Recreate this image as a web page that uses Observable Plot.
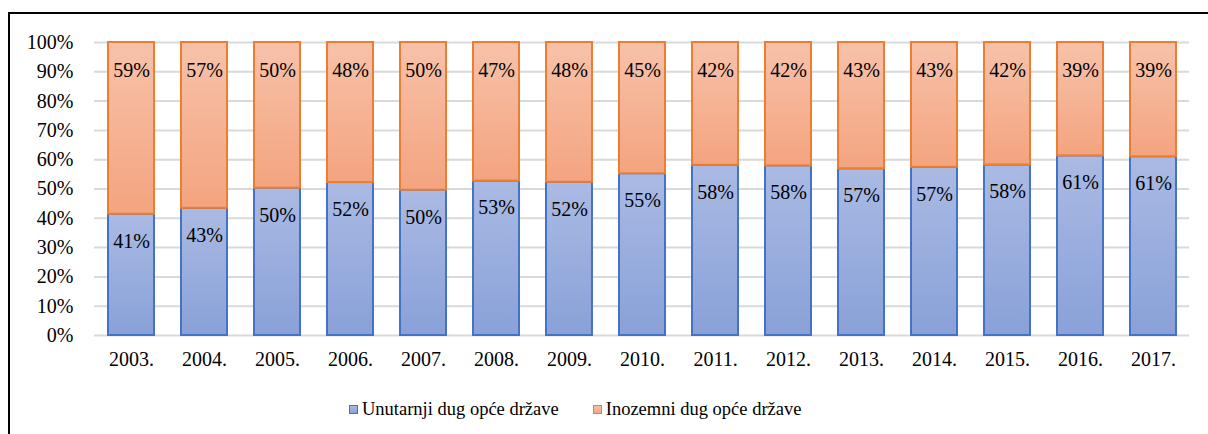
<!DOCTYPE html>
<html>
<head>
<meta charset="utf-8">
<script src="https://cdn.jsdelivr.net/npm/d3@7"></script>
<script src="https://cdn.jsdelivr.net/npm/@observablehq/plot@0.6"></script>
<style>
  html, body { margin: 0; padding: 0; background: #fff; overflow: hidden; width: 1208px; height: 434px; }
  body { position: relative; font-family: 'Liberation Serif', serif; }
  #frame { position: absolute; left: 8px; top: 12px; width: 1400px; height: 600px;
           border-top: 2px solid #000; border-left: 2px solid #000; pointer-events: none; }
  #chart { position: absolute; left: 0; top: 0; }
  #legend { position: absolute; left: 349px; top: 398px; display: flex; align-items: center;
            font-size: 18.5px; line-height: 22px; color: #000; white-space: nowrap; }
  .item { display: flex; align-items: center; }
  .sw { width: 7px; height: 7px; margin-right: 4px; }
  .sw.blue { border: 1.5px solid #4472c4; background: linear-gradient(#a9b9e2, #8aa2d9); }
  .sw.orange { border: 1.5px solid #ed7d31; background: linear-gradient(#f6c1a8, #f3a581); }
</style>
</head>
<body>
<svg width="0" height="0" style="position:absolute">
  <defs>
    <linearGradient id="gBlue" x1="0" y1="0" x2="0" y2="1">
      <stop offset="0" stop-color="#aabae3"/>
      <stop offset="1" stop-color="#89a1d9"/>
    </linearGradient>
    <linearGradient id="gOrange" x1="0" y1="0" x2="0" y2="1">
      <stop offset="0" stop-color="#f7c2aa"/>
      <stop offset="1" stop-color="#f4a47f"/>
    </linearGradient>
  </defs>
</svg>
<div id="chart"></div>
<div id="legend">
  <div class="item"><div class="sw blue"></div><span>Unutarnji dug opće države</span></div>
  <div class="item" style="margin-left:34px"><div class="sw orange"></div><span>Inozemni dug opće države</span></div>
</div>
<div id="frame"></div>
<script>
const years = ["2003.","2004.","2005.","2006.","2007.","2008.","2009.","2010.","2011.","2012.","2013.","2014.","2015.","2016.","2017."];
const domestic = [41.4, 43.4, 50.3, 52.2, 49.6, 52.7, 52.3, 55.2, 58.1, 57.9, 56.9, 57.4, 58.2, 61.3, 61.0];
const foreign  = [58.6, 56.6, 49.7, 47.8, 50.4, 47.3, 47.7, 44.8, 41.9, 42.1, 43.1, 42.6, 41.8, 38.7, 39.0];
const yTicks = [0,10,20,30,40,50,60,70,80,90,100];
const seriesNames = ["Unutarnji dug opće države", "Inozemni dug opće države"];

const rows = years.map((y, i) => ({year: y, dom: domestic[i], for: foreign[i]}));

const chart = Plot.plot({
  width: 1208,
  height: 380,
  marginLeft: 94,
  marginRight: 19,
  marginTop: 42,
  marginBottom: 45,
  style: {fontFamily: "'Liberation Serif', serif", fontSize: "20px", color: "#000", background: "transparent"},
  x: {domain: years, paddingInner: 0.37, paddingOuter: 0.185, label: null},
  y: {domain: [0, 100], label: null},
  marks: [
    Plot.ruleY(yTicks, {stroke: "#d9d9d9", strokeWidth: 2}),
    Plot.barY(rows, {x: "year", y1: 0, y2: "dom", fill: "url(#gBlue)", stroke: "#4472c4", strokeWidth: 2}),
    Plot.barY(rows, {x: "year", y1: "dom", y2: d => d.dom + d.for, fill: "url(#gOrange)", stroke: "#ed7d31", strokeWidth: 2}),
    Plot.text(rows, {x: "year", y: "dom", dy: 27, text: d => Math.round(d.dom) + "%", fill: "#000", fontSize: 20}),
    Plot.text(rows, {x: "year", y: d => d.dom + d.for, dy: 28, text: d => Math.round(d.for) + "%", fill: "#000", fontSize: 20}),
    Plot.axisY({ticks: yTicks, tickFormat: d => d + "%", tickSize: 0, tickPadding: 21, label: null, fill: "#000"}),
    Plot.axisX({tickSize: 0, tickPadding: 16, label: null, fill: "#000"})
  ]
});
document.getElementById("chart").appendChild(chart);
</script>
</body>
</html>
